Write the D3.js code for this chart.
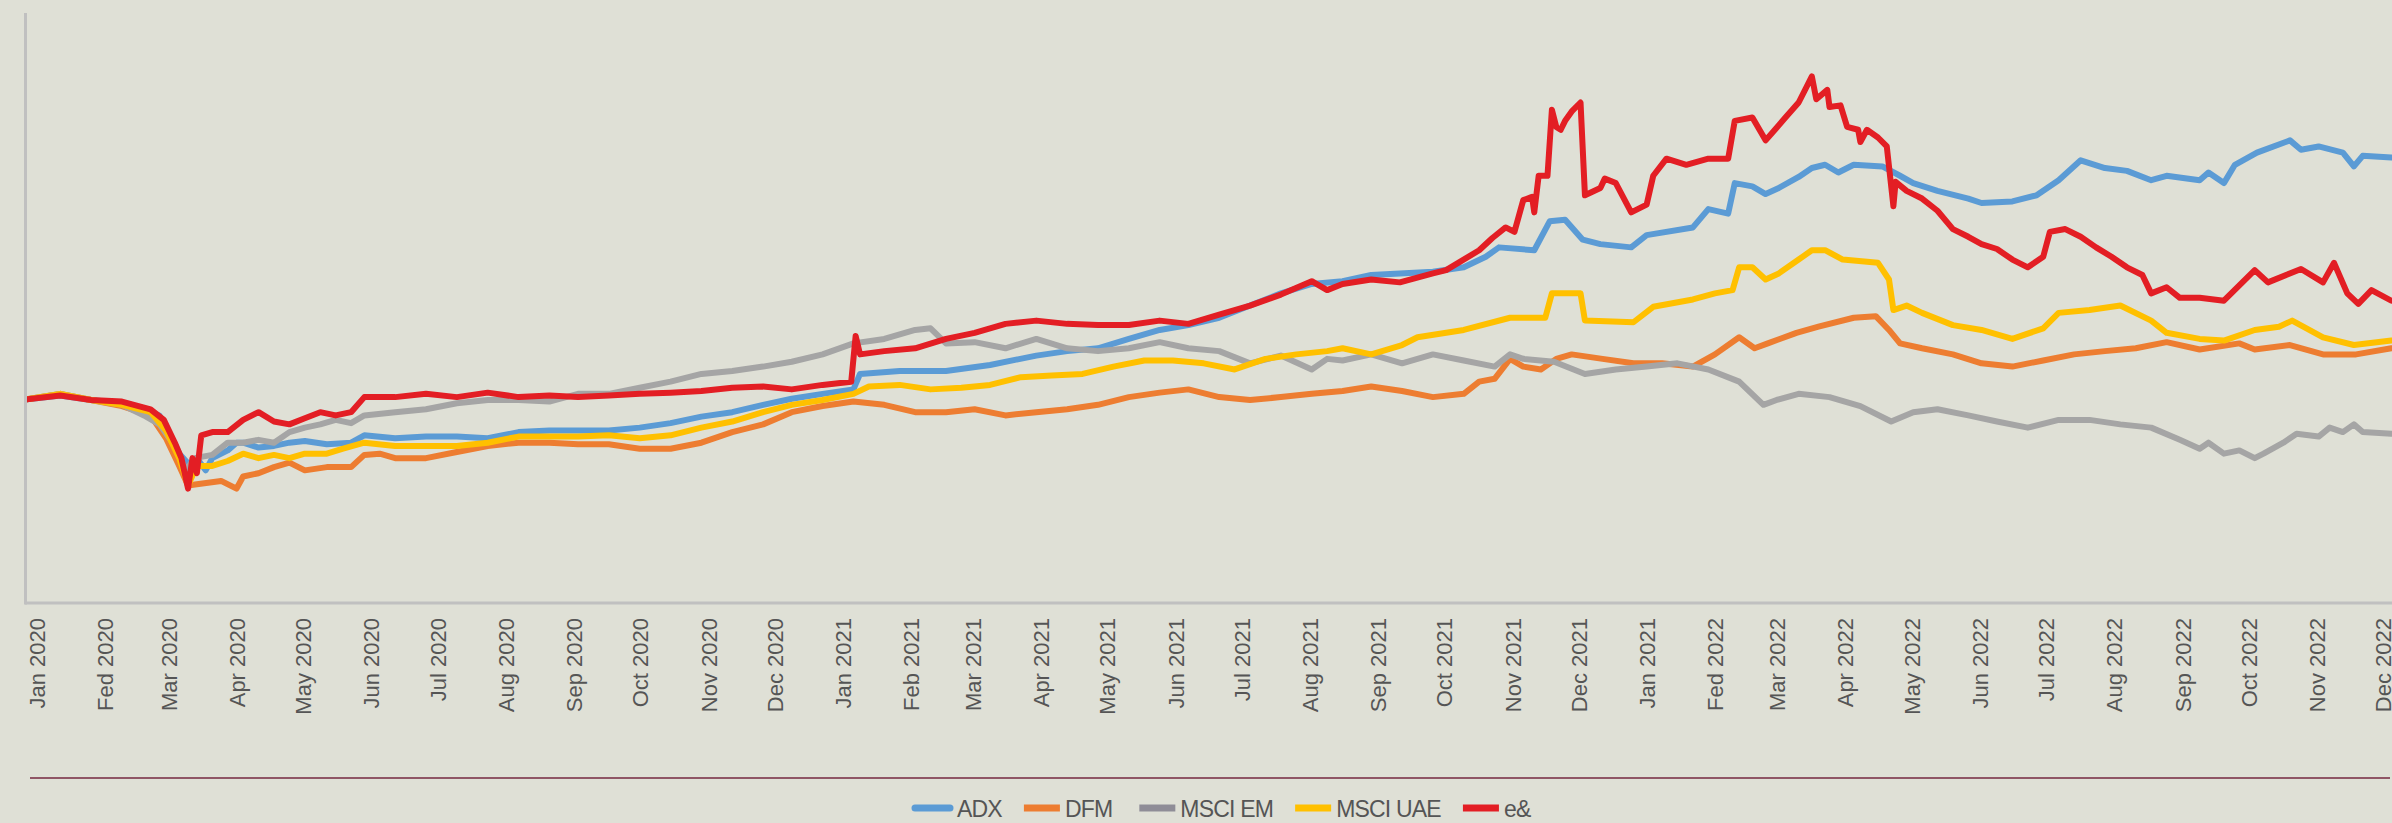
<!DOCTYPE html>
<html>
<head>
<meta charset="utf-8">
<script src="https://cdn.jsdelivr.net/npm/d3@7"></script>
<style>
  body { margin: 0; background: #dfe0d6; }
  svg { display: block; font-family: "Liberation Sans", Arial, sans-serif; }
</style>
</head>
<body>
<svg id="chart" width="2392" height="823"></svg>
<script>
// month labels as printed on the original (typos kept)
const tickLabels = ["Jan 2020","Fed 2020","Mar 2020","Apr 2020","May 2020","Jun 2020","Jul 2020","Aug 2020","Sep 2020","Oct 2020","Nov 2020","Dec 2020",
  "Jan 2021","Feb 2021","Mar 2021","Apr 2021","May 2021","Jun 2021","Jul 2021","Aug 2021","Sep 2021","Oct 2021","Nov 2021","Dec 2021",
  "Jan 2021","Fed 2022","Mar 2022","Apr 2022","May 2022","Jun 2022","Jul 2022","Aug 2022","Sep 2022","Oct 2022","Nov 2022","Dec 2022"]

const seriesNames = ["ADX", "DFM", "MSCI EM", "MSCI UAE", "e&"]
const seriesColors = ["#5b9bd5", "#ed7d31", "#a5a5a5", "#ffc000", "#e31e24"]

// rebased to 100 at 1 Jan 2020
const adx = [["2020-01-01",100],["2020-01-17",101.0],["2020-01-31",99.9],["2020-02-14",99.1],["2020-02-24",97.6],["2020-03-02",96.1],
  ["2020-03-07",91.2],["2020-03-11",86.7],["2020-03-16",83.7],["2020-03-19",85.6],["2020-03-23",82.6],["2020-03-26",85.6],["2020-04-02",87.5],
  ["2020-04-06",89.4],["2020-04-09",89.4],["2020-04-16",88.2],["2020-04-23",88.6],["2020-04-30",89.4],["2020-05-07",89.8],["2020-05-17",89.0],
  ["2020-05-28",89.4],["2020-06-03",91.2],["2020-06-17",90.5],["2020-07-01",90.9],["2020-07-15",90.9],["2020-07-29",90.5],["2020-08-12",92.0],
  ["2020-08-26",92.4],["2020-09-08",92.4],["2020-09-22",92.4],["2020-10-06",93.1],["2020-10-20",94.2],["2020-11-03",95.8],["2020-11-17",96.9],
  ["2020-12-01",98.7],["2020-12-14",100.2],["2020-12-28",101.4],["2021-01-11",102.5],["2021-01-14",106.3],["2021-02-01",107.0],["2021-02-22",107.0],
  ["2021-03-14",108.5],["2021-04-04",110.8],["2021-04-18",111.9],["2021-05-02",112.6],["2021-05-16",114.9],["2021-05-30",117.1],["2021-06-12",118.3],
  ["2021-06-26",120.1],["2021-07-10",123.1],["2021-07-24",126.1],["2021-08-07",128.4],["2021-08-21",129.1],["2021-09-03",130.6],["2021-09-16",131.0],
  ["2021-10-01",131.4],["2021-10-15",132.5],["2021-10-25",135.1],["2021-10-31",137.4],["2021-11-16",136.7],["2021-11-23",143.8],["2021-11-30",144.2],
  ["2021-12-08",139.3],["2021-12-16",138.2],["2021-12-30",137.4],["2022-01-06",140.4],["2022-01-27",142.3],["2022-02-03",146.8],["2022-02-12",145.7],
  ["2022-02-15",153.2],["2022-02-23",152.4],["2022-03-01",150.5],["2022-03-07",152.0],["2022-03-16",154.7],["2022-03-22",156.9],["2022-03-28",157.7],
  ["2022-04-03",155.8],["2022-04-10",157.7],["2022-04-23",157.3],["2022-05-01",155.0],["2022-05-07",153.2],["2022-05-18",151.3],["2022-06-01",149.4],
  ["2022-06-07",148.3],["2022-06-21",148.7],["2022-07-02",150.2],["2022-07-12",153.9],["2022-07-22",158.8],["2022-08-02",156.9],["2022-08-12",156.2],
  ["2022-08-23",153.9],["2022-08-30",155.0],["2022-09-14",153.9],["2022-09-18",155.8],["2022-09-25",153.2],["2022-09-30",157.7],["2022-10-10",160.7],
  ["2022-10-25",163.7],["2022-10-30",161.4],["2022-11-07",162.2],["2022-11-18",160.7],["2022-11-23",157.3],["2022-11-27",159.9],["2022-12-10",159.5]]

const dfm = [["2020-01-01",100],["2020-01-17",101.4],["2020-01-31",99.9],["2020-02-14",98.4],["2020-02-27",96.1],["2020-03-05",90.5],
  ["2020-03-11",83.7],["2020-03-15",78.9],["2020-03-19",79.2],["2020-03-30",80.0],["2020-04-06",78.1],["2020-04-09",81.1],["2020-04-16",81.9],
  ["2020-04-23",83.4],["2020-04-30",84.5],["2020-05-07",82.6],["2020-05-17",83.4],["2020-05-28",83.4],["2020-06-03",86.4],["2020-06-10",86.7],
  ["2020-06-17",85.6],["2020-07-01",85.6],["2020-07-15",87.1],["2020-07-29",88.6],["2020-08-12",89.4],["2020-08-26",89.4],["2020-09-08",89.0],
  ["2020-09-22",89.0],["2020-10-06",87.9],["2020-10-20",87.9],["2020-11-03",89.4],["2020-11-17",92.0],["2020-12-01",93.9],["2020-12-14",96.9],
  ["2020-12-28",98.4],["2021-01-11",99.5],["2021-01-25",98.7],["2021-02-08",96.9],["2021-02-22",96.9],["2021-03-07",97.6],["2021-03-21",96.1],
  ["2021-04-04",96.9],["2021-04-18",97.6],["2021-05-02",98.7],["2021-05-16",100.6],["2021-05-30",101.7],["2021-06-12",102.5],["2021-06-26",100.6],
  ["2021-07-10",99.9],["2021-07-24",100.6],["2021-08-07",101.4],["2021-08-21",102.1],["2021-09-03",103.2],["2021-09-17",102.1],["2021-10-01",100.6],
  ["2021-10-15",101.4],["2021-10-22",104.4],["2021-10-29",105.1],["2021-11-05",110.0],["2021-11-11",108.1],["2021-11-19",107.4],["2021-11-26",110.0],
  ["2021-12-03",111.1],["2021-12-17",110.0],["2021-12-31",108.9],["2022-01-13",108.9],["2022-01-27",108.1],["2022-02-06",111.1],["2022-02-17",115.3],
  ["2022-02-24",112.6],["2022-03-02",113.8],["2022-03-15",116.4],["2022-03-25",117.9],["2022-04-10",120.1],["2022-04-20",120.5],["2022-04-26",117.1],
  ["2022-05-01",113.8],["2022-05-11",112.6],["2022-05-25",111.1],["2022-06-07",108.9],["2022-06-21",108.1],["2022-07-05",109.6],["2022-07-19",111.1],
  ["2022-08-02",111.9],["2022-08-16",112.6],["2022-08-30",114.1],["2022-09-14",112.3],["2022-10-02",113.8],["2022-10-09",112.3],["2022-10-25",113.4],
  ["2022-11-09",111.1],["2022-11-24",111.1],["2022-12-10",112.6]]

const msciEm = [["2020-01-01",100],["2020-01-17",101.4],["2020-01-31",99.9],["2020-02-14",98.7],["2020-02-24",96.1],["2020-03-02",93.9],
  ["2020-03-09",88.6],["2020-03-14",82.6],["2020-03-18",85.6],["2020-03-26",86.4],["2020-04-02",89.4],["2020-04-09",89.4],["2020-04-16",90.1],
  ["2020-04-23",89.4],["2020-04-30",92.0],["2020-05-07",93.1],["2020-05-14",93.9],["2020-05-21",95.0],["2020-05-28",94.2],["2020-06-03",96.1],
  ["2020-06-17",96.9],["2020-07-01",97.6],["2020-07-15",99.1],["2020-07-29",99.9],["2020-08-12",99.9],["2020-08-26",99.5],["2020-09-08",101.4],
  ["2020-09-22",101.4],["2020-10-06",102.9],["2020-10-20",104.4],["2020-11-03",106.3],["2020-11-17",107.0],["2020-12-01",108.1],["2020-12-14",109.3],
  ["2020-12-28",111.1],["2021-01-11",113.8],["2021-01-25",114.9],["2021-02-08",117.1],["2021-02-15",117.5],["2021-02-22",113.8],["2021-03-07",114.1],
  ["2021-03-21",112.6],["2021-04-04",114.9],["2021-04-18",112.6],["2021-05-02",111.9],["2021-05-16",112.6],["2021-05-30",114.1],["2021-06-12",112.6],
  ["2021-06-26",111.9],["2021-07-10",108.9],["2021-07-24",110.8],["2021-08-07",107.4],["2021-08-14",110.0],["2021-08-21",109.6],["2021-09-03",111.1],
  ["2021-09-17",108.9],["2021-10-01",111.1],["2021-10-15",109.6],["2021-10-29",108.1],["2021-11-05",111.1],["2021-11-11",110.0],["2021-11-25",109.3],
  ["2021-12-09",106.3],["2021-12-23",107.4],["2022-01-06",108.1],["2022-01-20",108.9],["2022-02-03",107.4],["2022-02-17",104.4],["2022-02-28",98.7],
  ["2022-03-06",99.9],["2022-03-16",101.4],["2022-03-30",100.6],["2022-04-13",98.4],["2022-04-27",94.6],["2022-05-07",96.9],["2022-05-18",97.6],
  ["2022-06-01",96.1],["2022-06-14",94.6],["2022-06-28",93.1],["2022-07-12",95.0],["2022-07-26",95.0],["2022-08-09",93.9],["2022-08-23",93.1],
  ["2022-09-05",90.1],["2022-09-14",87.9],["2022-09-18",89.4],["2022-09-25",86.7],["2022-10-02",87.5],["2022-10-09",85.6],["2022-10-13",86.7],
  ["2022-10-22",89.4],["2022-10-28",91.6],["2022-11-07",90.9],["2022-11-12",93.1],["2022-11-18",92.0],["2022-11-23",93.9],["2022-11-27",92.0],
  ["2022-12-10",91.6]]

const msciUae = [["2020-01-01",100],["2020-01-17",101.4],["2020-01-31",99.9],["2020-02-14",98.7],["2020-02-27",96.9],["2020-03-05",92.4],
  ["2020-03-11",85.6],["2020-03-15",78.9],["2020-03-19",83.7],["2020-03-26",83.7],["2020-04-02",84.9],["2020-04-09",86.7],["2020-04-16",85.6],
  ["2020-04-23",86.4],["2020-04-30",85.6],["2020-05-07",86.7],["2020-05-17",86.7],["2020-05-24",87.9],["2020-06-03",89.4],["2020-06-17",88.6],
  ["2020-07-01",88.6],["2020-07-15",88.6],["2020-07-29",89.4],["2020-08-12",90.9],["2020-08-26",90.9],["2020-09-08",90.9],["2020-09-22",91.2],
  ["2020-10-06",90.5],["2020-10-20",91.2],["2020-11-03",93.1],["2020-11-17",94.6],["2020-12-01",96.9],["2020-12-14",98.7],["2020-12-28",99.9],
  ["2021-01-11",101.4],["2021-01-18",103.2],["2021-02-01",103.6],["2021-02-15",102.5],["2021-03-01",102.9],["2021-03-14",103.6],["2021-03-28",105.5],
  ["2021-04-11",105.9],["2021-04-25",106.3],["2021-05-09",108.1],["2021-05-23",109.6],["2021-06-05",109.6],["2021-06-19",108.9],["2021-07-03",107.4],
  ["2021-07-17",110.0],["2021-07-31",111.1],["2021-08-14",111.9],["2021-08-21",112.6],["2021-09-03",111.1],["2021-09-17",113.4],["2021-09-24",115.3],
  ["2021-10-15",117.1],["2021-11-05",120.1],["2021-11-21",120.1],["2021-11-24",126.1],["2021-12-07",126.1],["2021-12-09",119.4],["2021-12-31",119.0],
  ["2022-01-09",122.8],["2022-01-27",124.6],["2022-02-06",126.1],["2022-02-14",126.9],["2022-02-17",132.5],["2022-02-23",132.5],["2022-03-01",129.5],
  ["2022-03-07",131.0],["2022-03-16",134.4],["2022-03-22",136.7],["2022-03-28",136.7],["2022-04-05",134.4],["2022-04-21",133.6],["2022-04-26",129.5],
  ["2022-04-28",122.0],["2022-05-04",123.1],["2022-05-11",121.3],["2022-05-25",118.3],["2022-06-07",117.1],["2022-06-21",114.9],["2022-07-05",117.5],
  ["2022-07-12",121.3],["2022-07-26",122.0],["2022-08-09",123.1],["2022-08-23",119.4],["2022-08-30",116.4],["2022-09-14",114.9],["2022-09-25",114.5],
  ["2022-10-09",117.1],["2022-10-20",117.9],["2022-10-26",119.4],["2022-11-09",115.3],["2022-11-23",113.4],["2022-12-10",114.5]]

const eAnd = [["2020-01-01",100],["2020-01-17",101.0],["2020-01-31",99.9],["2020-02-14",99.5],["2020-02-27",97.6],["2020-03-04",95.0],
  ["2020-03-09",89.4],["2020-03-12",85.6],["2020-03-15",78.1],["2020-03-17",85.6],["2020-03-19",81.9],["2020-03-21",91.2],["2020-03-26",92.0],
  ["2020-04-02",92.0],["2020-04-09",95.0],["2020-04-16",96.9],["2020-04-23",94.6],["2020-04-30",93.9],["2020-05-07",95.4],["2020-05-14",96.9],
  ["2020-05-21",96.1],["2020-05-28",96.9],["2020-06-03",100.6],["2020-06-17",100.6],["2020-07-01",101.4],["2020-07-15",100.6],["2020-07-29",101.7],
  ["2020-08-12",100.6],["2020-08-26",101.0],["2020-09-08",100.6],["2020-09-22",101.0],["2020-10-06",101.4],["2020-10-20",101.7],["2020-11-03",102.1],
  ["2020-11-17",102.9],["2020-12-01",103.2],["2020-12-14",102.5],["2020-12-28",103.6],["2021-01-10",104.4],["2021-01-12",115.6],["2021-01-14",111.1],
  ["2021-01-25",111.9],["2021-02-08",112.6],["2021-02-22",114.9],["2021-03-07",116.4],["2021-03-21",118.6],["2021-04-04",119.4],["2021-04-18",118.6],
  ["2021-05-02",118.3],["2021-05-16",118.3],["2021-05-30",119.4],["2021-06-12",118.6],["2021-06-26",120.9],["2021-07-10",123.1],["2021-07-24",125.8],
  ["2021-08-07",129.1],["2021-08-14",126.9],["2021-08-21",128.4],["2021-09-03",129.5],["2021-09-16",128.8],["2021-10-01",131.0],["2021-10-07",131.8],
  ["2021-10-22",136.7],["2021-10-28",139.7],["2021-11-03",142.3],["2021-11-07",141.2],["2021-11-11",149.0],["2021-11-15",149.8],["2021-11-16",146.0],
  ["2021-11-18",155.0],["2021-11-22",155.0],["2021-11-24",171.2],["2021-11-26",167.0],["2021-11-28",166.3],["2021-11-30",168.5],["2021-12-03",170.8],
  ["2021-12-07",173.0],["2021-12-09",150.2],["2021-12-16",152.0],["2021-12-18",154.3],["2021-12-23",153.2],["2021-12-30",146.0],["2022-01-06",147.9],
  ["2022-01-09",155.0],["2022-01-15",159.2],["2022-01-24",157.7],["2022-02-03",159.2],["2022-02-12",159.2],["2022-02-15",168.5],["2022-02-23",169.3],
  ["2022-03-01",163.7],["2022-03-10",169.3],["2022-03-16",173.0],["2022-03-22",179.4],["2022-03-24",173.8],["2022-03-29",176.1],["2022-03-30",171.9],
  ["2022-04-04",172.3],["2022-04-07",167.0],["2022-04-12",166.3],["2022-04-13",163.3],["2022-04-16",166.3],["2022-04-21",164.4],["2022-04-25",162.2],
  ["2022-04-28",147.5],["2022-04-29",153.5],["2022-05-04",151.3],["2022-05-11",149.4],["2022-05-18",146.4],["2022-05-25",141.9],["2022-06-01",140.0],
  ["2022-06-07",138.2],["2022-06-14",137.0],["2022-06-21",134.4],["2022-06-28",132.5],["2022-07-05",135.1],["2022-07-08",141.2],["2022-07-15",141.9],
  ["2022-07-22",140.0],["2022-07-29",137.4],["2022-08-05",135.1],["2022-08-12",132.5],["2022-08-19",130.6],["2022-08-23",126.1],["2022-08-30",127.6],
  ["2022-09-05",125.0],["2022-09-14",125.0],["2022-09-25",124.3],["2022-10-09",131.8],["2022-10-15",128.8],["2022-10-30",132.1],["2022-11-09",128.8],
  ["2022-11-14",133.6],["2022-11-20",126.1],["2022-11-25",123.5],["2022-12-01",126.9],["2022-12-10",124.3]]

const allSeries = [adx, dfm, msciEm, msciUae, eAnd]

let svg = d3.select("#chart")
let parseDate = d3.timeParse("%Y-%m-%d")

// plot box
let plotLeft = 25, plotTop = 13, plotBottom = 603

// months are ~67px wide, the picture is cut off on the right part way into Dec 2022
let x = d3.scaleTime()
    .domain([new Date(2020, 0, 1), new Date(2023, 0, 1)])
    .range([plotLeft, plotLeft + 1096 * 2.2033])
let y = d3.scaleLinear().domain([50, 195]).range([plotBottom, plotTop])

svg.append("defs").append("clipPath").attr("id", "plot-clip")
    .append("rect").attr("x", plotLeft).attr("y", 0).attr("width", 2392 - plotLeft).attr("height", plotBottom)

// lines
let line = d3.line()
    .x(d => x(parseDate(d[0])))
    .y(d => y(d[1]))

let lines = svg.append("g").attr("clip-path", "url(#plot-clip)")
allSeries.forEach((s, i) => {
    lines.append("path")
        .datum(s)
        .attr("d", line)
        .attr("fill", "none")
        .attr("stroke", seriesColors[i])
        .attr("stroke-width", 6)
        .attr("stroke-linejoin", "round")
        .attr("stroke-linecap", "round")
})

// axes
let months = d3.timeMonth.range(new Date(2020, 0, 1), new Date(2023, 0, 1))
let xAxis = svg.append("g")
    .attr("transform", "translate(0," + plotBottom + ")")
    .call(d3.axisBottom(x).tickValues(months).tickSize(0).tickFormat((d, i) => tickLabels[i]))
xAxis.select(".domain").remove()
xAxis.selectAll("text")
    .attr("transform", "rotate(-90)")
    .attr("text-anchor", "end")
    .attr("x", -15)
    .attr("y", 19)
    .attr("dy", 0)
    .attr("fill", "#555555")
    .style("font-size", "22px")
    .style("font-family", "'Liberation Sans', Arial, sans-serif")

svg.append("line")
    .attr("x1", plotLeft).attr("x2", 2392).attr("y1", plotBottom).attr("y2", plotBottom)
    .attr("stroke", "#c0c0c0").attr("stroke-width", 3)
svg.append("line")
    .attr("x1", plotLeft + 0.5).attr("x2", plotLeft + 0.5).attr("y1", plotTop).attr("y2", plotBottom + 1.5)
    .attr("stroke", "#c0c0c0").attr("stroke-width", 3)

// rule above the legend
svg.append("line")
    .attr("x1", 30).attr("x2", 2390).attr("y1", 778).attr("y2", 778)
    .attr("stroke", "#74283f").attr("stroke-width", 1.6)

// legend
let legendSwatch = ["#5b9bd5", "#ed7d31", "#8f8d97", "#ffc000", "#e31e24"]
let legend = svg.append("g").attr("transform", "translate(912,808)")
let lx = 0
seriesNames.forEach((name, i) => {
    if (i == 0) {
        legend.append("line")
            .attr("x1", lx + 3).attr("x2", lx + 38).attr("y1", 0).attr("y2", 0)
            .attr("stroke", legendSwatch[i]).attr("stroke-width", 7).attr("stroke-linecap", "round")
    } else {
        legend.append("rect")
            .attr("x", lx).attr("y", -3.5).attr("width", 36).attr("height", 7)
            .attr("fill", legendSwatch[i])
    }
    let t = legend.append("text")
        .attr("x", lx + (i == 0 ? 45 : 41))
        .attr("y", 9)
        .attr("fill", "#555555")
        .style("font-size", "23px")
        .style("letter-spacing", "-0.8px")
        .text(name)
    lx += (i == 0 ? 45 : 41) + t.node().getComputedTextLength() + (i == 1 ? 27 : 22)
})
</script>
</body>
</html>
